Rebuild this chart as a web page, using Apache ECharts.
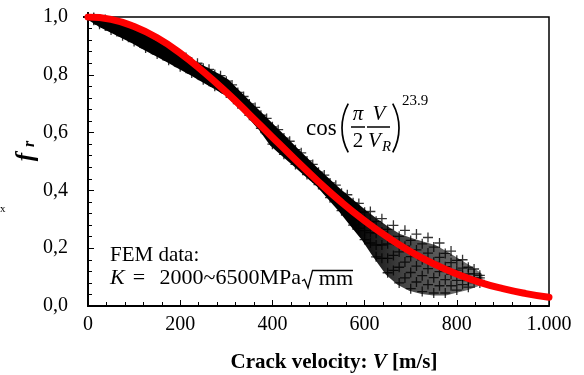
<!DOCTYPE html>
<html><head><meta charset="utf-8">
<script src="https://cdn.jsdelivr.net/npm/echarts@6/dist/echarts.min.js"></script>
<style>html,body{margin:0;padding:0;background:#fff}#c{width:584px;height:375px}</style>
</head><body><div id="c"></div>
<script>
// ---- tick labels ----
const xTicks = [0, 200, 400, 600, 800, 1000];
const xTickLabels = ['0', '200', '400', '600', '800', '1.000'];
const yTicks = [0, 0.2, 0.4, 0.6, 0.8, 1.0];
const yTickLabels = ['0,0', '0,2', '0,4', '0,6', '0,8', '1,0'];

// ---- fitted curve cos(pi/2 V/VR)^23.9 ----
const redV = [0,50,100,150,200,250,300,350,400,450,500,550,600,650,700,750,800,850,900,950,1000];
const redF = [1.000,0.992,0.967,0.928,0.875,0.811,0.740,0.663,0.584,0.506,0.430,0.359,0.295,0.238,0.188,0.146,0.111,0.082,0.060,0.043,0.030];

// ---- FEM data (crack velocity samples) ----
const vGridA = [0,25,50,75,100,125,150,175,200,225,250,275,300,325,350,375,400,425,450,475,500,525,550,575,600,625,650,675,700,725,750,775,800,825,850];
const vGridB = [12.5,37.5,62.5,87.5,112.5,137.5,162.5,187.5,212.5,237.5,262.5,287.5,312.5,337.5,362.5,387.5,412.5,437.5,462.5,487.5,512.5,537.5,562.5,587.5,612.5,637.5,662.5,687.5,712.5,737.5,762.5,787.5,812.5,837.5];

const femK1 = [1.000,0.975,0.955,0.935,0.915,0.893,0.872,0.850,0.828,0.806,0.783,0.760,0.737,0.700,0.660,0.615,0.560,0.525,0.490,0.455,0.420,0.375,0.330,0.280,0.230,0.170,0.115,0.080,0.060,0.050,0.045,0.045,0.055,0.065,0.080];
const femK3 = [1.000,0.981,0.964,0.946,0.926,0.905,0.884,0.862,0.840,0.819,0.796,0.774,0.751,0.713,0.673,0.630,0.580,0.544,0.507,0.471,0.434,0.392,0.350,0.306,0.261,0.211,0.165,0.134,0.116,0.105,0.098,0.091,0.089,0.088,0.089];
const femK5 = [1.000,0.987,0.973,0.956,0.938,0.917,0.895,0.874,0.852,0.831,0.810,0.787,0.764,0.726,0.686,0.645,0.600,0.562,0.524,0.486,0.449,0.409,0.370,0.331,0.293,0.252,0.215,0.187,0.171,0.160,0.151,0.136,0.124,0.111,0.097];
const femK7 = [1.000,0.993,0.982,0.967,0.949,0.929,0.907,0.886,0.864,0.844,0.823,0.801,0.778,0.739,0.699,0.660,0.620,0.581,0.541,0.502,0.463,0.426,0.390,0.357,0.324,0.293,0.265,0.241,0.227,0.215,0.204,0.182,0.158,0.134,0.106];
const femK2 = [0.989,0.969,0.950,0.930,0.910,0.888,0.867,0.845,0.823,0.801,0.778,0.755,0.725,0.686,0.644,0.596,0.552,0.516,0.481,0.445,0.405,0.362,0.316,0.269,0.218,0.165,0.123,0.097,0.083,0.074,0.070,0.070,0.074,0.080];
const femK4 = [0.992,0.976,0.960,0.942,0.922,0.900,0.879,0.857,0.835,0.814,0.792,0.769,0.738,0.699,0.658,0.614,0.571,0.534,0.497,0.460,0.421,0.380,0.339,0.298,0.254,0.211,0.175,0.152,0.138,0.129,0.119,0.110,0.103,0.096];
const femK6 = [0.995,0.984,0.969,0.953,0.933,0.912,0.891,0.869,0.848,0.827,0.805,0.783,0.752,0.712,0.672,0.631,0.591,0.552,0.514,0.475,0.437,0.399,0.362,0.326,0.290,0.256,0.227,0.207,0.194,0.183,0.168,0.150,0.131,0.111];
const femK8 = [0.998,0.991,0.979,0.964,0.945,0.924,0.903,0.881,0.860,0.840,0.819,0.797,0.765,0.725,0.687,0.649,0.610,0.570,0.530,0.490,0.453,0.418,0.385,0.355,0.327,0.302,0.279,0.262,0.249,0.237,0.218,0.190,0.160,0.128];

const femCurves = [
  [vGridA, femK1], [vGridB, femK2], [vGridA, femK3], [vGridB, femK4],
  [vGridA, femK5], [vGridB, femK6], [vGridA, femK7], [vGridB, femK8]
];

function lookup(ticks, labels, v) {
  for (let i = 0; i < ticks.length; i++) if (Math.abs(ticks[i] - v) < 1e-6) return labels[i];
  return '';
}

const SERIF = '"Liberation Serif", "Times New Roman", serif';
const plusPath = 'path://M4.35,0H5.65V4.35H10V5.65H5.65V10H4.35V5.65H0V4.35H4.35Z';

const coreGradient = { type: 'linear', x: 0, y: 0, x2: 1, y2: 0, colorStops: [
  { offset: 0, color: '#000' }, { offset: 0.68, color: '#000' },
  { offset: 0.8, color: '#444' }, { offset: 1, color: '#777' } ] };

// dense core of the FEM point cloud (between the outer sample curves)
const series = [{
  type: 'custom',
  name: 'FEM core',
  silent: true,
  z: 1,
  data: [[0, 0]],
  renderItem: function (params, api) {
    const pts = [];
    for (let j = 0; j < vGridA.length; j++) pts.push(api.coord([vGridA[j], femK7[j]]));
    for (let j = vGridA.length - 1; j >= 0; j--) pts.push(api.coord([vGridA[j], femK1[j]]));
    return {
      type: 'polygon',
      shape: { points: pts },
      style: { fill: coreGradient, stroke: coreGradient, lineWidth: 5, lineJoin: 'round' }
    };
  }
}];

femCurves.forEach(([vs, fs], k) => series.push({
  type: 'scatter',
  name: 'FEM' + (k + 1),
  symbol: plusPath,
  symbolSize: 10,
  itemStyle: { color: '#000' },
  silent: true,
  z: 2,
  data: vs.map((v, j) => [v, fs[j]])
}));
series.push({
  type: 'line',
  name: 'fit',
  smooth: true,
  showSymbol: false,
  silent: true,
  z: 5,
  lineStyle: { color: '#ff0000', width: 7, cap: 'round', join: 'round' },
  data: redV.map((v, j) => [v, redF[j]])
});

// parenthesis arcs
const pr = 51, pa = 0.5;

const chart = echarts.init(document.getElementById('c'), null, { renderer: 'canvas' });
chart.setOption({
  animation: false,
  backgroundColor: '#fff',
  grid: { left: 88, right: 35, top: 17, bottom: 69, show: true, borderColor: '#000', borderWidth: 1.5, backgroundColor: 'transparent' },
  xAxis: {
    type: 'value', min: 0, max: 1000, interval: 200,
    axisLine: { show: true, onZero: false, lineStyle: { color: '#000', width: 2 } },
    axisTick: { show: true, inside: true, length: 6, lineStyle: { color: '#000', width: 1 } },
    minorTick: { show: true, splitNumber: 5, length: 4, lineStyle: { color: '#000', width: 1 } },
    splitLine: { show: false },
    axisLabel: { color: '#000', fontFamily: SERIF, fontSize: 20, margin: 9,
      formatter: v => lookup(xTicks, xTickLabels, v) }
  },
  yAxis: {
    type: 'value', min: 0, max: 1, interval: 0.2,
    axisLine: { show: true, onZero: false, lineStyle: { color: '#000', width: 2 } },
    axisTick: { show: true, inside: true, length: 6, lineStyle: { color: '#000', width: 1 } },
    minorTick: { show: true, splitNumber: 5, length: 4, lineStyle: { color: '#000', width: 1 } },
    splitLine: { show: false },
    axisLabel: { color: '#000', fontFamily: SERIF, fontSize: 20, margin: 20,
      formatter: v => lookup(yTicks, yTickLabels, v) }
  },
  series: series,
  graphic: [
    // x axis title
    { type: 'text', x: 334, y: 363, silent: true, style: {
      text: '{a|Crack velocity: }{b|V}{a| [m/s]}', textAlign: 'center', textVerticalAlign: 'middle', fill: '#000',
      rich: { a: { font: 'bold 21px ' + SERIF, fill: '#000' }, b: { font: 'italic bold 21px ' + SERIF, fill: '#000' } } } },
    // y axis title f_r (rotated)
    { type: 'text', x: 27, y: 157, rotation: Math.PI / 2, silent: true, style: {
      text: 'f', font: 'italic bold 25px ' + SERIF, fill: '#000', textAlign: 'center', textVerticalAlign: 'middle' } },
    { type: 'text', x: 30, y: 144, rotation: Math.PI / 2, silent: true, style: {
      text: 'r', font: 'italic bold 16px ' + SERIF, fill: '#000', textAlign: 'center', textVerticalAlign: 'middle' } },
    // stray glyph at left edge
    { type: 'text', x: 0, y: 209, silent: true, style: {
      text: 'x', font: '11px ' + SERIF, fill: '#000', textAlign: 'left', textVerticalAlign: 'middle' } },
    // FEM data annotation
    { type: 'text', x: 110, y: 255, silent: true, style: {
      text: 'FEM data:', font: '21px ' + SERIF, fill: '#000', textAlign: 'left', textVerticalAlign: 'middle' } },
    { type: 'text', x: 110, y: 278, silent: true, style: {
      text: 'K', font: 'italic 22px ' + SERIF, fill: '#000', textAlign: 'left', textVerticalAlign: 'middle' } },
    { type: 'text', x: 139, y: 278, silent: true, style: {
      text: '=', font: '22px ' + SERIF, fill: '#000', textAlign: 'center', textVerticalAlign: 'middle' } },
    { type: 'text', x: 301, y: 278, silent: true, style: {
      text: '2000~6500MPa', font: '22px ' + SERIF, fill: '#000', textAlign: 'right', textVerticalAlign: 'middle' } },
    { type: 'polyline', silent: true, shape: { points: [[302, 281], [304.5, 279.5], [308, 288], [312.5, 270.5], [353, 270.5]] },
      style: { stroke: '#000', fill: null, lineWidth: 1.3 } },
    { type: 'text', x: 353, y: 279, silent: true, style: {
      text: 'mm', font: '22px ' + SERIF, fill: '#000', textAlign: 'right', textVerticalAlign: 'middle' } },
    // formula cos(pi/2 V/V_R)^23.9
    { type: 'text', x: 306, y: 129, silent: true, style: {
      text: 'cos', font: '23px ' + SERIF, fill: '#000', textAlign: 'left', textVerticalAlign: 'middle' } },
    { type: 'arc', silent: true, shape: { cx: 342 + pr, cy: 128, r: pr, startAngle: Math.PI - pa, endAngle: Math.PI + pa },
      style: { stroke: '#000', fill: null, lineWidth: 1.7 } },
    { type: 'text', x: 358, y: 114, silent: true, style: {
      text: 'π', font: 'italic 21px ' + SERIF, fill: '#000', textAlign: 'center', textVerticalAlign: 'middle' } },
    { type: 'line', silent: true, shape: { x1: 351, y1: 127, x2: 365, y2: 127 }, style: { stroke: '#000', lineWidth: 1.5 } },
    { type: 'text', x: 358, y: 141, silent: true, style: {
      text: '2', font: '21px ' + SERIF, fill: '#000', textAlign: 'center', textVerticalAlign: 'middle' } },
    { type: 'text', x: 379, y: 114, silent: true, style: {
      text: 'V', font: 'italic 21px ' + SERIF, fill: '#000', textAlign: 'center', textVerticalAlign: 'middle' } },
    { type: 'line', silent: true, shape: { x1: 367, y1: 127, x2: 390, y2: 127 }, style: { stroke: '#000', lineWidth: 1.5 } },
    { type: 'text', x: 368, y: 141, silent: true, style: {
      text: 'V', font: 'italic 21px ' + SERIF, fill: '#000', textAlign: 'left', textVerticalAlign: 'middle' } },
    { type: 'text', x: 382, y: 147, silent: true, style: {
      text: 'R', font: 'italic 15px ' + SERIF, fill: '#000', textAlign: 'left', textVerticalAlign: 'middle' } },
    { type: 'arc', silent: true, shape: { cx: 399 - pr, cy: 128, r: pr, startAngle: -pa, endAngle: pa },
      style: { stroke: '#000', fill: null, lineWidth: 1.7 } },
    { type: 'text', x: 402, y: 101, silent: true, style: {
      text: '23.9', font: '15px ' + SERIF, fill: '#000', textAlign: 'left', textVerticalAlign: 'middle' } }
  ]
});
</script>
</body></html>
